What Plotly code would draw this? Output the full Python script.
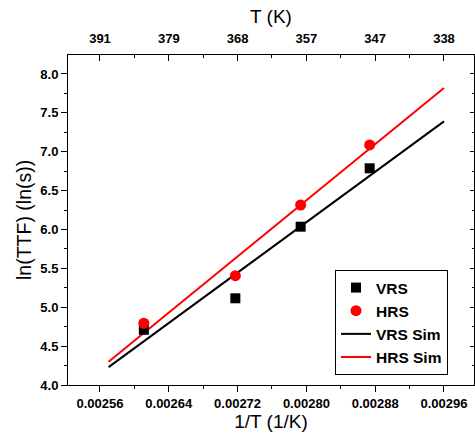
import plotly.graph_objects as go

# ---- data ----
inv_T = [0.002611, 0.0027174, 0.0027933, 0.0028736]
vrs = [4.71, 5.115, 6.036, 6.787]
hrs = [4.794, 5.406, 6.315, 7.087]
sim_x = [0.00257, 0.00296]
vrs_sim = [4.23, 7.39]
hrs_sim = [4.30, 7.82]
bottom_ticks = [0.00256, 0.00264, 0.00272, 0.00280, 0.00288, 0.00296]
bottom_labels = ["0.00256", "0.00264", "0.00272", "0.00280", "0.00288", "0.00296"]
top_labels = ["391", "379", "368", "357", "347", "338"]
y_ticks = [4.0, 4.5, 5.0, 5.5, 6.0, 6.5, 7.0, 7.5, 8.0]
y_labels = ["4.0", "4.5", "5.0", "5.5", "6.0", "6.5", "7.0", "7.5", "8.0"]

FONT = "Liberation Sans, Arial, sans-serif"
XR = [0.0025228, 0.0029949]
YR = [4.0, 8.244]
L, R, T, B = 68, 1, 55, 57
W, H = 475, 442
PW, PH = W - L - R, H - T - B

fig = go.Figure()
fig.add_trace(go.Scatter(x=sim_x, y=vrs_sim, mode="lines", name="VRS Sim",
                         line=dict(color="black", width=2), legendrank=3))
fig.add_trace(go.Scatter(x=sim_x, y=hrs_sim, mode="lines", name="HRS Sim",
                         line=dict(color="#ff0000", width=2), legendrank=4))
fig.add_trace(go.Scatter(x=inv_T, y=vrs, mode="markers", name="VRS",
                         marker=dict(symbol="square", size=10, color="black"), legendrank=1))
fig.add_trace(go.Scatter(x=inv_T, y=hrs, mode="markers", name="HRS",
                         marker=dict(symbol="circle", size=11, color="#ff0000"), legendrank=2))
# invisible helper so the top and right axes get drawn
fig.add_trace(go.Scatter(x=XR, y=YR, xaxis="x2", yaxis="y2", mode="markers",
                         marker=dict(opacity=0), showlegend=False, hoverinfo="skip"))

tickfont = dict(family=FONT, size=13, color="black", weight="bold")
titlefont = dict(family=FONT, size=19, color="black")

fig.update_layout(
    width=W, height=H,
    margin=dict(l=L, r=R, t=T, b=B),
    paper_bgcolor="white", plot_bgcolor="white",
    showlegend=True,
    legend=dict(x=(335 - L) / PW, y=(H - B - 270) / PH, xanchor="left", yanchor="top",
                bgcolor="white", bordercolor="black", borderwidth=1,
                font=dict(family=FONT, size=15.5, color="black", weight="bold"),
                tracegroupgap=0, itemwidth=30),
    xaxis=dict(range=XR, tickmode="array", tickvals=bottom_ticks, ticktext=bottom_labels,
               ticks="outside", ticklen=6, tickwidth=1, tickcolor="black",
               minor=dict(dtick=0.00004, tick0=0.00256, ticks="outside", ticklen=3, tickcolor="black"),
               showline=True, linecolor="black", linewidth=1, showgrid=False, zeroline=False,
               tickfont=tickfont,
               title=dict(text="1/T (1/K)", font=titlefont, standoff=5)),
    xaxis2=dict(range=XR, overlaying="x", side="top", tickmode="array",
                tickvals=bottom_ticks, ticktext=top_labels,
                ticks="inside", ticklen=6, tickwidth=1, tickcolor="black",
                minor=dict(dtick=0.00004, tick0=0.00256, ticks="inside", ticklen=3, tickcolor="black"),
                showline=True, linecolor="black", linewidth=1, showgrid=False, zeroline=False,
                tickfont=tickfont, ticklabelstandoff=6,
                title=dict(text="T (K)", font=titlefont, standoff=2)),
    yaxis=dict(range=YR, tickmode="array", tickvals=y_ticks, ticktext=y_labels,
               ticks="outside", ticklen=6, tickwidth=1, tickcolor="black",
               minor=dict(dtick=0.25, tick0=4.0, ticks="outside", ticklen=3, tickcolor="black"),
               showline=True, linecolor="black", linewidth=1, showgrid=False, zeroline=False,
               tickfont=tickfont),
    yaxis2=dict(range=YR, overlaying="y", side="right", tickmode="array", tickvals=y_ticks,
                ticks="inside", ticklen=4, tickwidth=1, tickcolor="black", showticklabels=False,
                minor=dict(dtick=0.25, tick0=4.0, ticks="inside", ticklen=2, tickcolor="black"),
                showline=True, linecolor="black", linewidth=1, showgrid=False, zeroline=False),
    annotations=[dict(text="ln(TTF) (ln(s))", textangle=-90, showarrow=False,
                      xref="paper", yref="paper", x=(24 - L) / PW, y=0.5,
                      xanchor="center", yanchor="middle",
                      font=dict(family=FONT, size=19.5, color="black"))],
)

fig.write_html("out.html", config={"displayModeBar": False},
               post_script="document.body.style.margin='0px';")
